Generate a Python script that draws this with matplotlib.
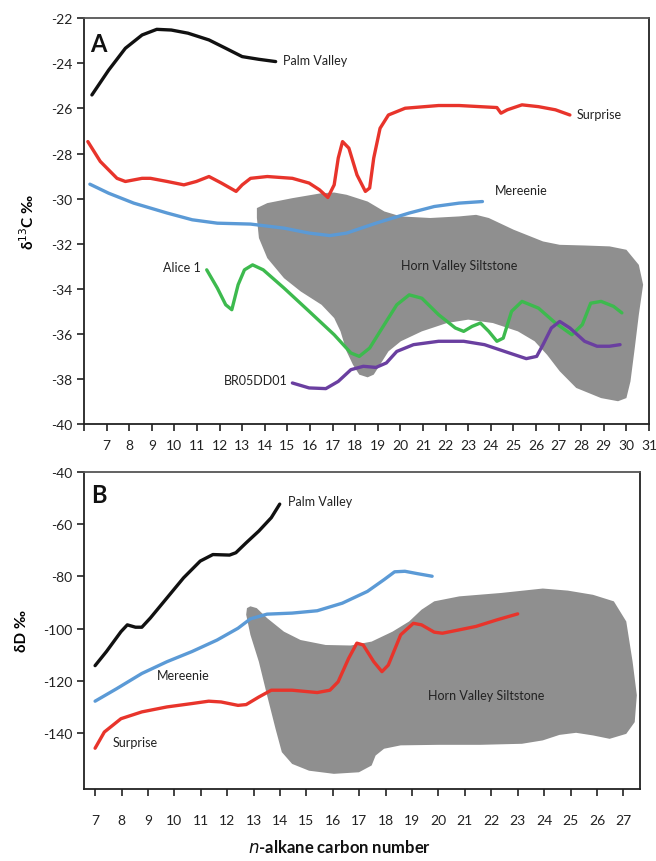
import matplotlib
matplotlib.use("Agg")
import matplotlib.pyplot as plt
from matplotlib.patches import Polygon

plt.rcParams['font.family'] = ['Lato', 'DejaVu Sans']

# ---------------- Panel A data (delta 13C) ----------------
a_palm_x = [6.35, 7.09, 7.83, 8.57, 9.22, 9.86, 10.6, 11.53, 12.27, 13.0, 13.74, 14.48]
a_palm_y = [-25.4, -24.3, -23.33, -22.74, -22.49, -22.52, -22.66, -22.96, -23.33, -23.7, -23.82, -23.92]

a_surp_x = [6.17, 6.72, 7.46, 7.83, 8.57, 8.94, 9.68, 10.42, 10.97, 11.53, 12.08, 12.73, 13.0, 13.37,
            14.11, 15.22, 15.96, 16.42, 16.79, 17.07, 17.25, 17.44, 17.72, 18.08, 18.45, 18.64, 18.82,
            19.1, 19.47, 20.21, 21.69, 22.6, 24.27, 24.45, 24.73, 25.38, 26.11, 26.86, 27.5]
a_surp_y = [-27.47, -28.35, -29.1, -29.24, -29.1, -29.1, -29.24, -29.39, -29.24, -29.02, -29.31, -29.68,
            -29.39, -29.1, -29.02, -29.1, -29.31, -29.61, -29.95, -29.39, -28.2, -27.47, -27.76, -28.95,
            -29.68, -29.53, -28.2, -26.88, -26.29, -25.99, -25.87, -25.87, -25.96, -26.21, -26.06, -25.84,
            -25.92, -26.06, -26.29]

a_mer_x = [6.26, 7.09, 8.2, 9.68, 10.79, 11.9, 13.37, 14.85, 15.96, 16.88, 17.62, 18.92, 20.39, 21.5, 22.6, 23.63]
a_mer_y = [-29.36, -29.76, -30.2, -30.64, -30.94, -31.09, -31.13, -31.31, -31.53, -31.64, -31.53, -31.09,
           -30.64, -30.35, -30.2, -30.13]

a_alice_x = [11.43, 11.9, 12.27, 12.54, 12.82, 13.1, 13.46, 13.93, 14.85, 15.96, 17.07, 17.81, 18.18, 18.64,
             19.1, 19.84, 20.39, 20.95, 21.69, 22.43, 22.8, 23.17, 23.54, 23.91, 24.27, 24.55, 24.92, 25.38,
             26.11, 26.86, 27.59, 28.05, 28.42, 28.88, 29.43, 29.8]
a_alice_y = [-33.16, -33.97, -34.71, -34.93, -33.82, -33.16, -32.94, -33.16, -33.97, -35.0, -36.04, -36.85,
             -37.0, -36.63, -35.89, -34.71, -34.27, -34.42, -35.15, -35.74, -35.89, -35.67, -35.52, -35.89,
             -36.33, -36.19, -35.0, -34.56, -34.86, -35.52, -36.04, -35.59, -34.64, -34.56, -34.78, -35.07]

a_br_x = [15.22, 15.96, 16.7, 17.25, 17.81, 18.36, 18.92, 19.38, 19.84, 20.58, 21.69, 22.8, 23.72, 24.82,
          25.57, 26.03, 26.31, 26.68, 27.05, 27.5, 28.15, 28.7, 29.25, 29.72]
a_br_y = [-38.18, -38.4, -38.43, -38.11, -37.59, -37.44, -37.49, -37.29, -36.78, -36.48, -36.33, -36.33,
          -36.48, -36.85, -37.1, -37.0, -36.48, -35.74, -35.45, -35.74, -36.33, -36.55, -36.55, -36.48]

a_hvs_x = [13.65, 14.11, 15.22, 16.51, 17.07, 17.62, 18.55, 19.29, 20.02, 21.32, 22.6, 23.35, 23.91, 25.01,
           26.31, 27.05, 28.15, 29.26, 30.0, 30.55, 30.74, 30.55, 30.37, 30.18, 30.0, 29.63, 28.88, 27.78,
           27.05, 26.49, 25.94, 25.2, 24.09, 23.0, 22.06, 20.95, 20.02, 19.47, 19.1, 18.82, 18.55, 18.18,
           17.9, 17.62, 17.35, 17.07, 16.51, 15.59, 14.85, 14.11, 13.74, 13.65]
a_hvs_y = [-30.42, -30.2, -29.98, -29.76, -29.73, -29.83, -30.13, -30.57, -30.79, -30.86, -30.79, -30.72,
           -30.86, -31.38, -31.9, -32.05, -32.08, -32.12, -32.27, -32.94, -33.82, -35.15, -36.63, -38.11,
           -38.85, -38.99, -38.85, -38.4, -37.66, -36.93, -36.33, -35.89, -35.52, -35.37, -35.52, -35.89,
           -36.33, -36.78, -37.37, -37.81, -37.93, -37.81, -37.37, -36.78, -35.89, -35.3, -34.71, -34.12,
           -33.53, -32.64, -31.75, -30.86]

a_xticks = list(range(7, 32))
a_yticks = [-22, -24, -26, -28, -30, -32, -34, -36, -38, -40]

# ---------------- Panel B data (delta D) ----------------
b_palm_x = [7.0, 7.43, 7.98, 8.22, 8.53, 8.77, 9.09, 9.72, 10.35, 10.98, 11.46, 12.09, 12.33, 12.72, 13.2, 13.67, 13.99]
b_palm_y = [-114.2, -108.8, -101.2, -98.6, -99.5, -99.5, -96.0, -88.3, -80.6, -74.2, -71.7, -71.9, -71.0,
            -67.2, -62.7, -57.6, -52.4]

b_mer_x = [7.0, 7.82, 8.77, 9.72, 10.67, 11.62, 12.41, 12.88, 13.51, 14.46, 15.41, 16.36, 17.31, 17.94, 18.34,
           18.73, 19.2, 19.76]
b_mer_y = [-127.8, -123.0, -117.2, -112.7, -108.8, -104.4, -99.9, -96.3, -94.5, -94.1, -93.2, -90.3, -85.8,
           -81.3, -78.3, -78.1, -79.0, -80.0]

b_surp_x = [7.0, 7.35, 7.98, 8.77, 9.72, 10.67, 11.3, 11.77, 12.41, 12.72, 13.2, 13.67, 14.46, 15.41, 15.89,
            16.2, 16.6, 16.91, 17.15, 17.55, 17.86, 18.1, 18.57, 19.05, 19.36, 19.84, 20.15, 20.79, 21.42,
            22.21, 23.0]
b_surp_y = [-145.8, -139.6, -134.5, -131.9, -130.0, -128.7, -127.8, -128.1, -129.4, -129.1, -126.2, -123.6,
            -123.6, -124.5, -123.6, -120.4, -111.4, -105.6, -106.3, -112.7, -116.5, -114.0, -102.4, -98.0,
            -98.6, -101.4, -101.8, -100.5, -99.2, -96.7, -94.4]

b_hvs_x = [12.88, 13.12, 13.51, 14.15, 14.78, 15.73, 16.68, 17.47, 18.26, 18.89, 19.36, 19.84, 20.79, 22.37,
           23.95, 24.9, 25.85, 26.64, 27.11, 27.35, 27.51, 27.43, 27.11, 26.48, 25.85, 25.21, 24.58, 23.95,
           23.16, 21.58, 20.0, 18.57, 17.94, 17.62, 17.47, 16.99, 16.04, 15.1, 14.46, 14.07, 13.83, 13.51,
           13.2, 12.88, 12.72, 12.75]
b_hvs_y = [-91.5, -92.2, -96.0, -101.2, -104.4, -106.3, -106.5, -105.0, -101.2, -97.3, -92.8, -89.6, -87.7,
           -86.4, -84.7, -85.5, -87.1, -89.6, -97.3, -112.7, -125.5, -135.8, -140.3, -142.2, -140.9, -139.9,
           -140.7, -142.8, -144.1, -144.5, -144.5, -144.7, -146.0, -148.6, -152.4, -155.0, -155.6, -154.4,
           -151.8, -147.3, -138.3, -125.5, -112.7, -102.4, -94.7, -92.2]

b_xticks = list(range(7, 28))
b_yticks = [-40, -60, -80, -100, -120, -140]

# ---------------- styling ----------------
C_BLACK = '#111111'
C_RED = '#e8342b'
C_BLUE = '#5b9ad6'
C_GREEN = '#3dba4e'
C_PURPLE = '#6a3fa0'
C_GRAY = '#8f8f8f'
LW = 2.4

fig = plt.figure(figsize=(6.56, 8.62), dpi=100)
axA = fig.add_axes([84/656, 1 - 425/862, (649 - 84)/656, (425 - 19.3)/862])
axB = fig.add_axes([84/656, 1 - 790/862, (640 - 84)/656, (790 - 472.7)/862])

def style(ax, xpad):
    for s in ax.spines.values():
        s.set_linewidth(1.3)
    ax.spines['left'].set_color('#222222')
    ax.spines['bottom'].set_color('#222222')
    ax.spines['top'].set_color('#555555')
    ax.spines['right'].set_color('#222222')
    ax.tick_params(axis='both', direction='out', length=5, width=1.2, labelsize=10, colors='#222222')
    ax.tick_params(axis='x', pad=xpad)

# Panel A
axA.add_patch(Polygon(list(zip(a_hvs_x, a_hvs_y)), closed=True, facecolor=C_GRAY, edgecolor='none', zorder=1))
axA.plot(a_palm_x, a_palm_y, color=C_BLACK, lw=LW, solid_capstyle='round', solid_joinstyle='round', zorder=3)
axA.plot(a_surp_x, a_surp_y, color=C_RED, lw=LW, solid_capstyle='round', solid_joinstyle='round', zorder=3)
axA.plot(a_mer_x, a_mer_y, color=C_BLUE, lw=LW, solid_capstyle='round', solid_joinstyle='round', zorder=3)
axA.plot(a_alice_x, a_alice_y, color=C_GREEN, lw=LW, solid_capstyle='round', solid_joinstyle='round', zorder=3)
axA.plot(a_br_x, a_br_y, color=C_PURPLE, lw=LW, solid_capstyle='round', solid_joinstyle='round', zorder=3)
axA.set_xlim(6, 31)
axA.set_ylim(-40, -22)
axA.set_xticks([6] + a_xticks)
axA.set_xticklabels([''] + [str(t) for t in a_xticks])
axA.set_yticks(a_yticks)
axA.set_yticklabels([str(t) for t in a_yticks])
style(axA, 6)

tkw = dict(fontsize=9, color='#222222', zorder=4)
axA.text(14.8, -23.85, 'Palm Valley', ha='left', va='center', **tkw)
axA.text(27.8, -26.26, 'Surprise', ha='left', va='center', **tkw)
axA.text(24.2, -29.6, 'Mereenie', ha='left', va='center', **tkw)
axA.text(11.15, -33.05, 'Alice 1', ha='right', va='center', **tkw)
axA.text(15.0, -38.03, 'BR05DD01', ha='right', va='center', **tkw)
axA.text(22.6, -32.94, 'Horn Valley Siltstone', ha='center', va='center', **tkw)
axA.text(6.25, -23.1, 'A', ha='left', va='center', fontsize=17, fontweight='bold', color='#111111', zorder=4)
axA.set_ylabel('δ$^{13}$C ‰', fontsize=11, fontweight='bold', labelpad=10)

# Panel B
axB.add_patch(Polygon(list(zip(b_hvs_x, b_hvs_y)), closed=True, facecolor=C_GRAY, edgecolor='none', zorder=1))
axB.plot(b_palm_x, b_palm_y, color=C_BLACK, lw=LW, solid_capstyle='round', solid_joinstyle='round', zorder=3)
axB.plot(b_mer_x, b_mer_y, color=C_BLUE, lw=LW, solid_capstyle='round', solid_joinstyle='round', zorder=3)
axB.plot(b_surp_x, b_surp_y, color=C_RED, lw=LW, solid_capstyle='round', solid_joinstyle='round', zorder=3)
axB.set_xlim(6.58, 27.63)
axB.set_ylim(-161.4, -40)
axB.set_xticks(b_xticks)
axB.set_xticklabels([str(t) for t in b_xticks])
axB.set_yticks(b_yticks)
axB.set_yticklabels([str(t) for t in b_yticks])
style(axB, 13)

axB.text(14.3, -51.4, 'Palm Valley', ha='left', va='center', **tkw)
axB.text(10.35, -117.8, 'Mereenie', ha='center', va='center', **tkw)
axB.text(8.53, -143.5, 'Surprise', ha='center', va='center', **tkw)
axB.text(21.8, -125.5, 'Horn Valley Siltstone', ha='center', va='center', **tkw)
axB.text(6.85, -48.6, 'B', ha='left', va='center', fontsize=17, fontweight='bold', color='#111111', zorder=4)
axB.set_ylabel('δD ‰', fontsize=11, fontweight='bold', labelpad=10)

fig.text(340/656, 1 - 848/862, r'$\bf{\it{n}}$-alkane carbon number', ha='center', va='center',
         fontsize=12, fontweight='bold', color='#111111')

fig.savefig('out.png', dpi=100, facecolor='white')
